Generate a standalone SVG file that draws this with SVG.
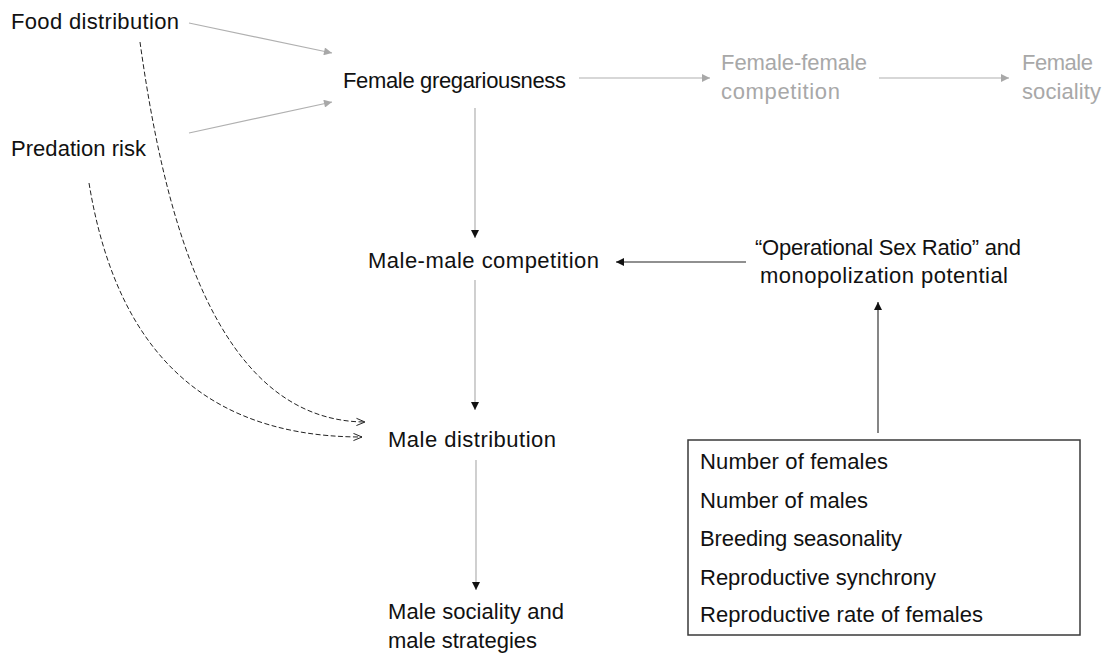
<svg xmlns="http://www.w3.org/2000/svg" width="1106" height="654" viewBox="0 0 1106 654">
<style>
text{font-family:"Liberation Sans",Arial,sans-serif;font-size:22px;fill:#111}
.g{fill:#a8a8a8}
.ln{fill:none;stroke:#b0b0b0;stroke-width:1.2}
.lk{fill:none;stroke:#222;stroke-width:1.1}
.ld{fill:none;stroke:#222;stroke-width:1;stroke-dasharray:5 2.5}
.box{fill:none;stroke:#3a3a3a;stroke-width:1.5}
</style>
<defs>
<marker id="ak" viewBox="0 0 10 10" refX="10" refY="5" markerWidth="8" markerHeight="8" markerUnits="userSpaceOnUse" orient="auto"><path d="M0,0 L10,5 L0,10 z" fill="#111"/></marker>
<marker id="ag" viewBox="0 0 10 10" refX="10" refY="5" markerWidth="9" markerHeight="8" markerUnits="userSpaceOnUse" orient="auto"><path d="M0,0 L10,5 L0,10 z" fill="#a8a8a8"/></marker>
<marker id="ao" viewBox="0 0 10 10" refX="9.5" refY="5" markerWidth="9" markerHeight="9" markerUnits="userSpaceOnUse" orient="auto"><path d="M0,1 L9.5,5 L0,9" fill="none" stroke="#222" stroke-width="1.1"/></marker>
</defs>
<g id="connectors">
<path class="ln" d="M189,23 L332,53" marker-end="url(#ag)"/>
<path class="ln" d="M189,133 L332,102" marker-end="url(#ag)"/>
<path class="ln" d="M579,78 L710,78" marker-end="url(#ag)"/>
<path class="ln" d="M879,78 L1009,78" marker-end="url(#ag)"/>
<path class="ln" d="M475,108 L475,238" marker-end="url(#ak)"/>
<path class="ln" d="M475,280 L475,410" marker-end="url(#ak)"/>
<path class="ln" d="M476,460 L476,590" marker-end="url(#ak)"/>
<path class="lk" d="M746,262 L616,262" marker-end="url(#ak)"/>
<path class="lk" d="M878,433 L878,302" marker-end="url(#ak)"/>
<path class="ld" d="M140,42 C164,215 215,421 365,422" marker-end="url(#ao)"/>
<path class="ld" d="M89,183 C111,317 177,437 362,437" marker-end="url(#ao)"/>
</g>
<g id="food"><text x="11" y="29" textLength="168">Food distribution</text></g>
<g id="predation"><text x="11" y="156" textLength="135">Predation risk</text></g>
<g id="female-gregariousness"><text x="343" y="88" textLength="223">Female gregariousness</text></g>
<g id="female-female-competition"><text class="g" x="721" y="70" textLength="146">Female-female</text><text class="g" x="721" y="99" textLength="119">competition</text></g>
<g id="female-sociality"><text class="g" x="1022" y="70" textLength="71">Female</text><text class="g" x="1022" y="99" textLength="79">sociality</text></g>
<g id="male-male-competition"><text x="368" y="268" textLength="231">Male-male competition</text></g>
<g id="osr"><text x="755" y="255" textLength="266">“Operational Sex Ratio” and</text><text x="760" y="283" textLength="248">monopolization potential</text></g>
<g id="male-distribution"><text x="388" y="447" textLength="168">Male distribution</text></g>
<g id="male-sociality"><text x="388" y="619" textLength="176">Male sociality and</text><text x="388" y="648" textLength="149">male strategies</text></g>
<g id="factors">
<rect class="box" x="688" y="440" width="392" height="195"/>
<text x="700" y="469" textLength="188">Number of females</text>
<text x="700" y="508" textLength="168">Number of males</text>
<text x="700" y="546" textLength="202">Breeding seasonality</text>
<text x="700" y="585" textLength="236">Reproductive synchrony</text>
<text x="700" y="622" textLength="283">Reproductive rate of females</text>
</g>
</svg>
